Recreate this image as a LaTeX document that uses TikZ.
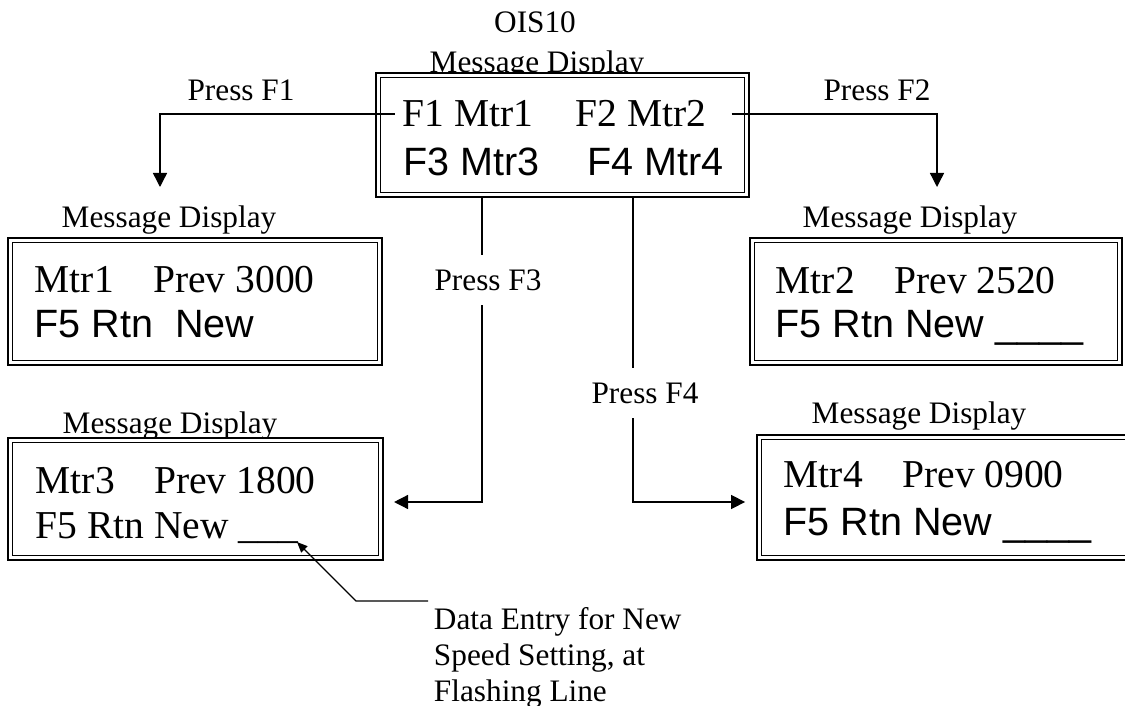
\documentclass[tikz,border=0pt]{standalone}
\usepackage{fontspec}
\setmainfont{Liberation Serif}
\setsansfont{Liberation Sans}
\usetikzlibrary{arrows.meta}

\newcommand{\capfont}{\fontsize{17.8}{20.6}\selectfont\rmfamily}
\newcommand{\lcdrm}{\fontsize{22.5}{27}\selectfont\rmfamily}
\newcommand{\lcdsf}{\fontsize{22.5}{27}\selectfont\sffamily}

\tikzset{
  lcd/.style={draw,line width=1.6pt,fill=white,inner sep=0pt,
    path picture={\draw[line width=0.9pt]
      ([shift={(2.5pt,-2.5pt)}]path picture bounding box.north west) rectangle
      ([shift={(-2.5pt,2.5pt)}]path picture bounding box.south east);}},
  lcdcap/.style={font=\capfont,anchor=base,inner sep=0pt},
  rowrm/.style={font=\lcdrm,anchor=base west,inner sep=0pt},
  rowsf/.style={font=\lcdsf,anchor=base west,inner sep=0pt},
}

\begin{document}
\begin{tikzpicture}[x=0.02cm,y=-0.02cm,>={Triangle[length=8pt,width=8pt]},line width=0.8pt]
	  \useasboundingbox (0,0) rectangle (1125,706);
	  % captions
	  \node[lcdcap] (ois) at (535,33) {OIS10};
	  \node[lcdcap] (c0) at (537,72) {Message Display};
	  \node[lcdcap] (c1) at (169,227) {Message Display};
	  \node[lcdcap] (c2) at (910,227) {Message Display};
	  \node[lcdcap] (c3) at (170,433) {Message Display};
	  \node[lcdcap] (c4) at (919,423) {Message Display};
	  % displays
	  \node[lcd,minimum width=7.46cm,minimum height=2.48cm] (top) at (562.5,135) {};
	  \node[lcd,minimum width=7.48cm,minimum height=2.54cm] (m1) at (195,301.5) {};
	  \node[lcd,minimum width=7.44cm,minimum height=2.54cm] (m2) at (936,301.5) {};
	  \node[lcd,minimum width=7.50cm,minimum height=2.44cm] (m3) at (195.5,499) {};
	  \node[lcd,minimum width=7.46cm,minimum height=2.50cm] (m4) at (943.5,497.5) {};
	  % display texts
	  \node[rowrm] (t1) at (402,127) {F1 Mtr1};
	  \node[rowrm] (t2) at (575,127) {F2 Mtr2};
	  \node[rowsf] (t3) at (403,175) {F3 Mtr3};
	  \node[rowsf] (t4) at (587,175) {F4 Mtr4};
	  \node[rowrm] (a1) at (34,292) {Mtr1\quad Prev 3000};
	  \node[rowsf] (b1) at (34,337) {F5 Rtn\ \ New};
	  \node[rowrm] (a2) at (775,293) {Mtr2\quad Prev 2520};
	  \node[rowsf] (b2) at (775,337) {F5 Rtn New \_\_\_\_};
	  \node[rowrm] (a3) at (35,493) {Mtr3\quad Prev 1800};
	  \node[rowrm] (b3) at (35,538) {F5 Rtn New \_\_\_};
	  \node[rowrm] (a4) at (783,487) {Mtr4\quad Prev 0900};
	  \node[rowsf] (b4) at (783,535) {F5 Rtn New \_\_\_\_};
	  % key labels
	  \node[lcdcap] (p1) at (241,100) {Press F1};
	  \node[lcdcap] (p2) at (877,100) {Press F2};
	  \node[lcdcap,inner ysep=8pt] (p3) at (488,290) {Press F3};
	  \node[lcdcap,inner ysep=8pt] (p4) at (645,403) {Press F4};
	  \coordinate (e1) at (160,187);
	  \coordinate (e2) at (937,187);
	  \coordinate (k3) at (482,502);
	  \coordinate (k4) at (633,502);
	  \draw[->] ([xshift=-4pt]t1.west) -| (e1);
	  \draw[->] ([xshift=14pt]t2.east) -| (e2);
	  \draw (top.south -| k3) -- (p3.north -| k3);
	  \draw[->,shorten >=5.5pt] (p3.south -| k3) -- (k3) -- (k3 -| m3.east);
	  \draw (top.south -| k4) -- (p4.north -| k4);
	  \draw[->,shorten >=6pt] (p4.south -| k4) -- (k4) -- (k4 -| m4.west);
	  % note on the entry line
	  \node[font=\capfont,align=left,anchor=north west,inner sep=3pt] (note) at (428,601)
	    {Data Entry for New\\Speed Setting, at\\Flashing Line};
	  \coordinate (u3) at (297,542);
	  \coordinate (k5) at (356,601);
	  \draw[-{Triangle[length=6pt,width=5pt]}] (note.north west) -- (k5) -- (u3);
	\end{tikzpicture}
\end{document}
